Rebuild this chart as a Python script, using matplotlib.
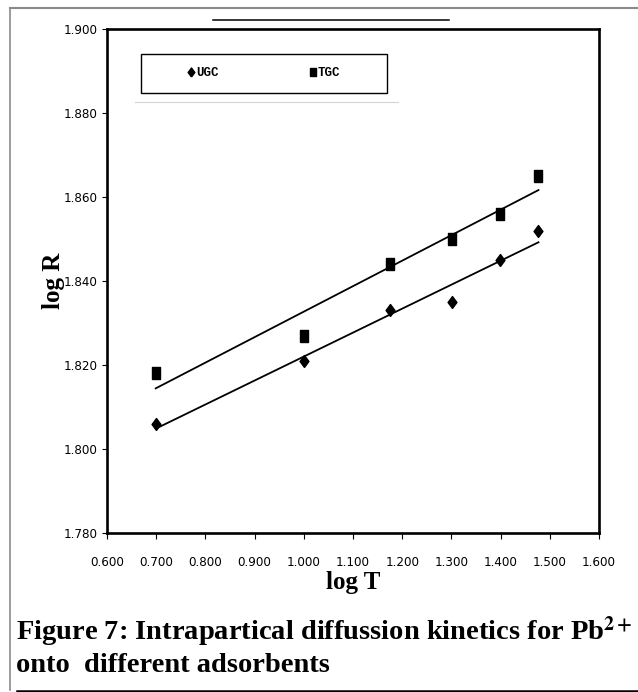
import numpy as np
import matplotlib
matplotlib.use("Agg")
import matplotlib.pyplot as plt
from matplotlib.lines import Line2D
from matplotlib.patches import Rectangle
from matplotlib import font_manager

# ---- data ----
log_t = [0.699, 1.000, 1.176, 1.301, 1.398, 1.477]
ugc = [1.806, 1.821, 1.833, 1.835, 1.845, 1.852]
tgc = [1.818, 1.827, 1.844, 1.850, 1.856, 1.865]
x_ticks = [0.6, 0.7, 0.8, 0.9, 1.0, 1.1, 1.2, 1.3, 1.4, 1.5, 1.6]
y_ticks = [1.78, 1.80, 1.82, 1.84, 1.86, 1.88, 1.90]
series_names = ["UGC", "TGC"]
caption_1 = "Figure 7: Intrapartical diffussion kinetics for Pb$^{\\mathbf{2+}}$"
caption_2 = "onto  different adsorbents"

plt.rcParams['mathtext.fontset'] = 'stix'
serif_font = ['Liberation Serif', 'DejaVu Serif']

# pick a narrow regular font for tick labels if one is available
narrow = None
for f in font_manager.fontManager.ttflist:
    w = f.weight if isinstance(f.weight, int) else {'normal': 400, 'regular': 400, 'book': 400}.get(str(f.weight).lower(), 700)
    if w <= 400 and f.style == 'normal' and ('Narrow' in f.name or 'Condensed' in f.fname):
        narrow = f
        break
if narrow is not None:
    tick_kw = dict(fontproperties=font_manager.FontProperties(fname=narrow.fname, size=9.5))
else:
    tick_kw = dict(fontfamily='DejaVu Sans', fontsize=7.6)

W, H = 638, 692
fig = plt.figure(figsize=(W / 100, H / 100), dpi=100)

ax_l, ax_r, ax_t, ax_b = 107, 599, 29, 533
ax = fig.add_axes([ax_l / W, 1 - ax_b / H, (ax_r - ax_l) / W, (ax_b - ax_t) / H])

diamond = [(0, -0.5), (0.37, 0), (0, 0.5), (-0.37, 0), (0, -0.5)]
rect = [(-0.33, -0.5), (0.33, -0.5), (0.33, 0.5), (-0.33, 0.5), (-0.33, -0.5)]

ax.plot(log_t, ugc, linestyle='none', marker=diamond, color='black', markersize=8.6, zorder=3)
ax.plot(log_t, tgc, linestyle='none', marker=rect, color='black', markersize=8.6, zorder=3)

for ys in (ugc, tgc):
    p = np.polyfit(log_t, ys, 1)
    xs = np.array([min(log_t), max(log_t)])
    ax.plot(xs, np.polyval(p, xs), color='black', lw=1.3, zorder=2)

ax.set_xlim(0.6, 1.6)
ax.set_ylim(1.78, 1.90)
ax.set_xticks(x_ticks)
ax.set_yticks(y_ticks)
ax.set_xticklabels([f"{v:.3f}" for v in x_ticks], **tick_kw)
ax.set_yticklabels([f"{v:.3f}" for v in y_ticks], **tick_kw)
ax.tick_params(axis='x', direction='out', length=4.3, width=0.8, pad=12.5)
ax.tick_params(axis='y', direction='out', length=3.6, width=0.8, pad=3.2)
for s in ax.spines.values():
    s.set_linewidth(1.9)

ax.set_xlabel("log T", fontfamily=serif_font, fontweight='bold', fontsize=18, labelpad=1)
ax.set_ylabel("log R", fontfamily=serif_font, fontweight='bold', fontsize=18, labelpad=-1)

# legend
leg_l, leg_r, leg_t, leg_b = 141, 387, 54, 93
bx0 = (leg_l - ax_l) / (ax_r - ax_l)
by0 = (ax_b - leg_b) / (ax_b - ax_t)
bw = (leg_r - leg_l) / (ax_r - ax_l)
bh = (leg_b - leg_t) / (ax_b - ax_t)
ax.add_patch(Rectangle((bx0, by0), bw, bh, transform=ax.transAxes, fill=False,
                       edgecolor='black', lw=1.0, zorder=4))
handles = [Line2D([], [], linestyle='none', marker=diamond, color='black', markersize=6.5),
           Line2D([], [], linestyle='none', marker=rect, color='black', markersize=6.0)]
ax.legend(handles, series_names, ncol=2, loc='center',
          bbox_to_anchor=(bx0 + bw / 2, by0 + bh / 2), frameon=False,
          handlelength=0.5, handletextpad=0.15, columnspacing=7.3,
          prop={'family': ['Liberation Mono', 'DejaVu Sans Mono'], 'weight': 'bold', 'size': 9})

def hline(x0, x1, y, color, lw):
    fig.add_artist(Line2D([x0 / W, x1 / W], [1 - y / H, 1 - y / H], color=color, lw=lw))

def vline(x, y0, y1, color, lw):
    fig.add_artist(Line2D([x / W, x / W], [1 - y0 / H, 1 - y1 / H], color=color, lw=lw))

hline(213, 449, 19.5, 'black', 1.1)
hline(135, 398, 102, '#d4d4d4', 0.8)
hline(10, 638, 8, '#8a8a8a', 1.5)
vline(10, 8, 690, '#8a8a8a', 1.2)
hline(17, 638, 690.5, 'black', 1.8)

fig.text(16 / W, 1 - 640 / H, caption_1, fontfamily=serif_font, fontweight='bold', fontsize=20.5,
         ha='left', va='baseline')
fig.text(16 / W, 1 - 672 / H, caption_2, fontfamily=serif_font, fontweight='bold', fontsize=20.5,
         ha='left', va='baseline')

fig.savefig("out.png", dpi=100)
